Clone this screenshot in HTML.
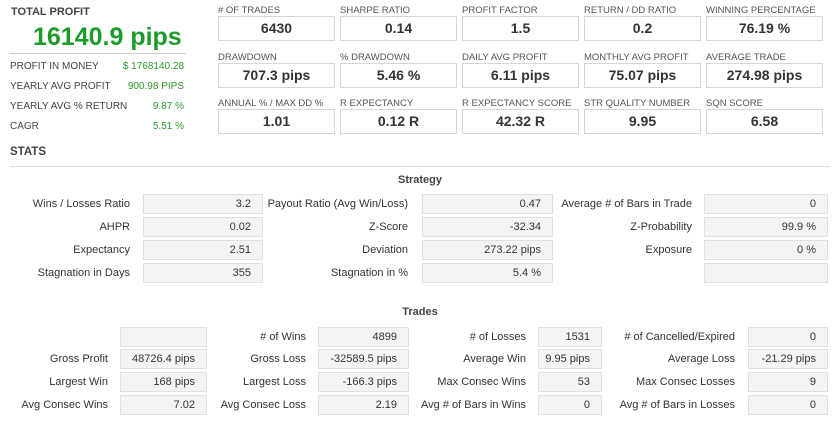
<!DOCTYPE html><html><head><style>
body{margin:0;width:840px;height:433px;background:#fff;font-family:"Liberation Sans",Arial,sans-serif;position:relative;overflow:hidden;color:#333}
div{position:absolute;white-space:nowrap}
.l{font-size:9.5px;color:#555}
.b{border:1px solid #d6d6d6;background:#fff;font-size:14px;font-weight:bold;color:#333;text-align:center;box-sizing:border-box;height:25px;line-height:23px;width:117px}
.sl{font-size:11px;color:#333;text-align:right;line-height:20px;height:20px}
.sb{background:#f4f4f4;border:1px solid #e0e0e0;box-sizing:border-box;height:20px;line-height:18px;font-size:11px;text-align:right;padding-right:11px;color:#333}
.lr{font-size:10px;color:#444}
.g{color:#2a9a2a;font-size:10px;text-align:right}
</style></head><body>
<div style="left:11px;top:6px;font-size:11px;font-weight:bold;color:#444">TOTAL PROFIT</div>
<div style="left:33px;top:23px;font-size:25px;font-weight:bold;color:#1e9a2a">16140.9 pips</div>
<div style="left:9px;top:53px;width:177px;height:1px;background:#ccc"></div>
<div class="lr" style="left:10px;top:61px">PROFIT IN MONEY</div><div class="g" style="right:656px;top:61px">$ 1768140.28</div>
<div class="lr" style="left:10px;top:81px">YEARLY AVG PROFIT</div><div class="g" style="right:656px;top:81px">900.98 PIPS</div>
<div class="lr" style="left:10px;top:101px">YEARLY AVG % RETURN</div><div class="g" style="right:656px;top:101px">9.87 %</div>
<div class="lr" style="left:10px;top:121px">CAGR</div><div class="g" style="right:656px;top:121px">5.51 %</div>
<div style="left:10px;top:146px;font-size:11.5px;font-weight:bold;color:#444">STATS</div>
<div style="left:10px;top:166px;width:820px;height:1px;background:#ddd"></div>

<div class="l" style="left:218px;top:5px"># OF TRADES</div><div class="b" style="left:218px;top:16px">6430</div>
<div class="l" style="left:340px;top:5px">SHARPE RATIO</div><div class="b" style="left:340px;top:16px">0.14</div>
<div class="l" style="left:462px;top:5px">PROFIT FACTOR</div><div class="b" style="left:462px;top:16px">1.5</div>
<div class="l" style="left:584px;top:5px">RETURN / DD RATIO</div><div class="b" style="left:584px;top:16px">0.2</div>
<div class="l" style="left:706px;top:5px">WINNING PERCENTAGE</div><div class="b" style="left:706px;top:16px">76.19 %</div>
<div class="l" style="left:218px;top:52px">DRAWDOWN</div><div class="b" style="left:218px;top:63px">707.3 pips</div>
<div class="l" style="left:340px;top:52px">% DRAWDOWN</div><div class="b" style="left:340px;top:63px">5.46 %</div>
<div class="l" style="left:462px;top:52px">DAILY AVG PROFIT</div><div class="b" style="left:462px;top:63px">6.11 pips</div>
<div class="l" style="left:584px;top:52px">MONTHLY AVG PROFIT</div><div class="b" style="left:584px;top:63px">75.07 pips</div>
<div class="l" style="left:706px;top:52px">AVERAGE TRADE</div><div class="b" style="left:706px;top:63px">274.98 pips</div>
<div class="l" style="left:218px;top:98px">ANNUAL % / MAX DD %</div><div class="b" style="left:218px;top:109px">1.01</div>
<div class="l" style="left:340px;top:98px">R EXPECTANCY</div><div class="b" style="left:340px;top:109px">0.12 R</div>
<div class="l" style="left:462px;top:98px">R EXPECTANCY SCORE</div><div class="b" style="left:462px;top:109px">42.32 R</div>
<div class="l" style="left:584px;top:98px">STR QUALITY NUMBER</div><div class="b" style="left:584px;top:109px">9.95</div>
<div class="l" style="left:706px;top:98px">SQN SCORE</div><div class="b" style="left:706px;top:109px">6.58</div>

<div style="left:0;width:840px;text-align:center;top:174px;font-size:11px;font-weight:bold;color:#444">Strategy</div>
<div class="sl" style="right:710px;top:194px">Wins / Losses Ratio</div><div class="sb" style="left:143px;top:194px;width:120px">3.2</div>
<div class="sl" style="right:432px;top:194px">Payout Ratio (Avg Win/Loss)</div><div class="sb" style="left:422px;top:194px;width:131px">0.47</div>
<div class="sl" style="right:148px;top:194px">Average # of Bars in Trade</div><div class="sb" style="left:704px;top:194px;width:124px">0</div>
<div class="sl" style="right:710px;top:217px">AHPR</div><div class="sb" style="left:143px;top:217px;width:120px">0.02</div>
<div class="sl" style="right:432px;top:217px">Z-Score</div><div class="sb" style="left:422px;top:217px;width:131px">-32.34</div>
<div class="sl" style="right:148px;top:217px">Z-Probability</div><div class="sb" style="left:704px;top:217px;width:124px">99.9 %</div>
<div class="sl" style="right:710px;top:240px">Expectancy</div><div class="sb" style="left:143px;top:240px;width:120px">2.51</div>
<div class="sl" style="right:432px;top:240px">Deviation</div><div class="sb" style="left:422px;top:240px;width:131px">273.22 pips</div>
<div class="sl" style="right:148px;top:240px">Exposure</div><div class="sb" style="left:704px;top:240px;width:124px">0 %</div>
<div class="sl" style="right:710px;top:263px">Stagnation in Days</div><div class="sb" style="left:143px;top:263px;width:120px">355</div>
<div class="sl" style="right:432px;top:263px">Stagnation in %</div><div class="sb" style="left:422px;top:263px;width:131px">5.4 %</div>
<div class="sb" style="left:704px;top:263px;width:124px"></div>

<div style="left:0;width:840px;text-align:center;top:306px;font-size:11px;font-weight:bold;color:#444">Trades</div>
<div class="sb" style="left:120px;top:327px;width:87px"></div>
<div class="sl" style="right:534px;top:327px"># of Wins</div><div class="sb" style="left:318px;top:327px;width:91px">4899</div>
<div class="sl" style="right:314px;top:327px"># of Losses</div><div class="sb" style="left:538px;top:327px;width:64px">1531</div>
<div class="sl" style="right:105px;top:327px"># of Cancelled/Expired</div><div class="sb" style="left:748px;top:327px;width:80px">0</div>
<div class="sl" style="right:732px;top:349px">Gross Profit</div><div class="sb" style="left:120px;top:349px;width:87px">48726.4 pips</div>
<div class="sl" style="right:534px;top:349px">Gross Loss</div><div class="sb" style="left:318px;top:349px;width:91px">-32589.5 pips</div>
<div class="sl" style="right:314px;top:349px">Average Win</div><div class="sb" style="left:538px;top:349px;width:64px">9.95 pips</div>
<div class="sl" style="right:105px;top:349px">Average Loss</div><div class="sb" style="left:748px;top:349px;width:80px">-21.29 pips</div>
<div class="sl" style="right:732px;top:372px">Largest Win</div><div class="sb" style="left:120px;top:372px;width:87px">168 pips</div>
<div class="sl" style="right:534px;top:372px">Largest Loss</div><div class="sb" style="left:318px;top:372px;width:91px">-166.3 pips</div>
<div class="sl" style="right:314px;top:372px">Max Consec Wins</div><div class="sb" style="left:538px;top:372px;width:64px">53</div>
<div class="sl" style="right:105px;top:372px">Max Consec Losses</div><div class="sb" style="left:748px;top:372px;width:80px">9</div>
<div class="sl" style="right:732px;top:395px">Avg Consec Wins</div><div class="sb" style="left:120px;top:395px;width:87px">7.02</div>
<div class="sl" style="right:534px;top:395px">Avg Consec Loss</div><div class="sb" style="left:318px;top:395px;width:91px">2.19</div>
<div class="sl" style="right:314px;top:395px">Avg # of Bars in Wins</div><div class="sb" style="left:538px;top:395px;width:64px">0</div>
<div class="sl" style="right:105px;top:395px">Avg # of Bars in Losses</div><div class="sb" style="left:748px;top:395px;width:80px">0</div>
</body></html>
